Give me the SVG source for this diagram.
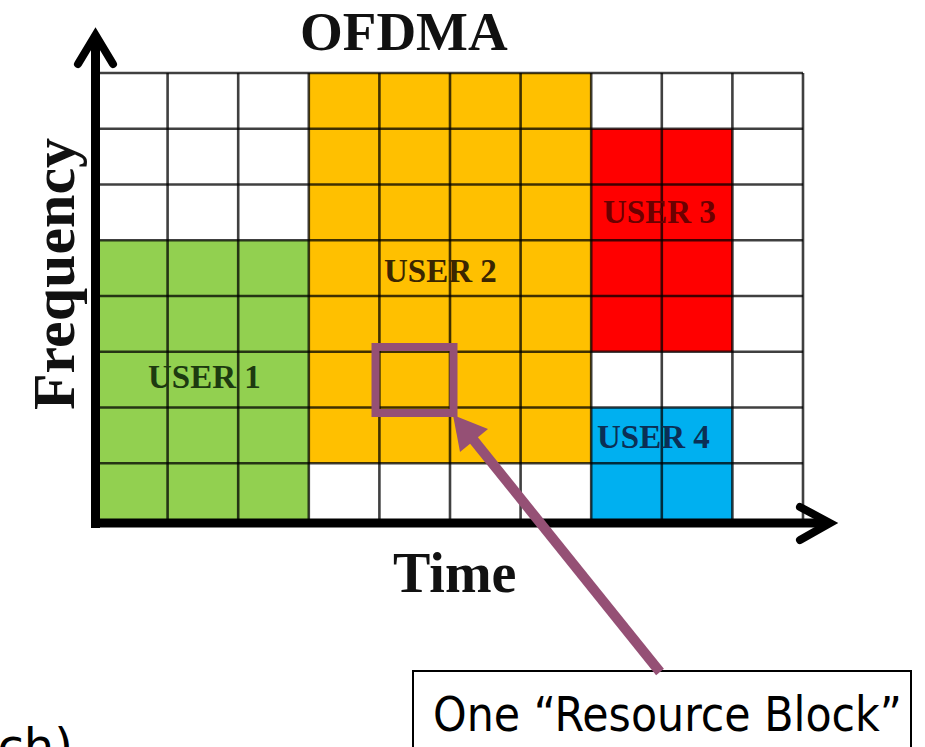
<svg xmlns="http://www.w3.org/2000/svg" width="925" height="747" viewBox="0 0 925 747">
  <style>
    .cell-line { stroke: #000; stroke-opacity: 0.75; stroke-width: 2.6; fill: none; }
    .user { font-family: "Liberation Serif", "Times New Roman", serif; font-weight: bold; font-size: 33px; }
    .axis-label { font-family: "Liberation Serif", "Times New Roman", serif; font-weight: bold; fill: #111; }
    .axis { stroke: #000; stroke-width: 9; fill: none; }
    .head { stroke: #000; stroke-width: 8; fill: none; stroke-linecap: round; stroke-linejoin: miter; }
    .sans { font-family: "DejaVu Sans", "Verdana", sans-serif; fill: #000; }
  </style>
  <rect x="0" y="0" width="925" height="747" fill="#fff"/>

  <g id="title">
    <text class="axis-label" x="300" y="50" font-size="55">OFDMA</text>
  </g>

  <g id="user1">
    <rect x="97" y="240.25" width="211.8" height="278.75" fill="#92D050"/>
  </g>
  <g id="user2">
    <rect x="308.8" y="73" width="282.4" height="390.25" fill="#FFC000"/>
  </g>
  <g id="user3">
    <rect x="591.2" y="128.75" width="141.2" height="223" fill="#FF0000"/>
  </g>
  <g id="user4">
    <rect x="591.2" y="407.5" width="141.2" height="111.5" fill="#00B0F0"/>
  </g>

  <g id="grid" class="cell-line">
    <path d="M167.6 73V519M238.2 73V519M308.8 73V519M379.4 73V519M450 73V519M520.6 73V519M591.2 73V519M661.8 73V519M732.4 73V519M803 73V519"/>
    <path d="M97 73H803M97 128.75H803M97 184.5H803M97 240.25H803M97 296H803M97 351.75H803M97 407.5H803M97 463.25H803"/>
  </g>

  <g id="user-labels">
    <text class="user" x="148" y="388" fill="#1d3a10">USER 1</text>
    <text class="user" x="384" y="282" fill="#3b2600">USER 2</text>
    <text class="user" x="603" y="223" fill="#6b0000">USER 3</text>
    <text class="user" x="597" y="448" fill="#0b2f55">USER 4</text>
  </g>

  <g id="axis-labels">
    <text class="axis-label" x="393" y="592" font-size="56">Time</text>
    <text class="axis-label" font-size="60" text-anchor="middle" transform="translate(74 274) rotate(-90)">Frequency</text>
  </g>

  <g id="resource-block">
    <rect x="375.5" y="347" width="78" height="66" fill="none" stroke="#955075" stroke-width="8"/>
  </g>

  <g id="label-box">
    <rect x="413" y="671" width="498" height="110" fill="#fff" stroke="#000" stroke-width="2"/>
    <text class="sans" x="433" y="731" font-size="48" textLength="469" lengthAdjust="spacingAndGlyphs">One “Resource Block”</text>
  </g>

  <g id="cut-text">
    <text class="sans" x="73" y="763" font-size="48" text-anchor="end">ch)</text>
  </g>

  <g id="connectors">
    <path class="axis" d="M95.5 528V36"/>
    <polyline class="head" points="78,64 95.5,35 113,64"/>
    <path class="axis" d="M91 523H829"/>
    <polyline class="head" points="800,507 830,523 800,540"/>
    <line x1="660" y1="672" x2="472" y2="438" stroke="#955075" stroke-width="10"/>
    <polygon points="453,415 488,429 460,452" fill="#955075"/>
  </g>
</svg>
